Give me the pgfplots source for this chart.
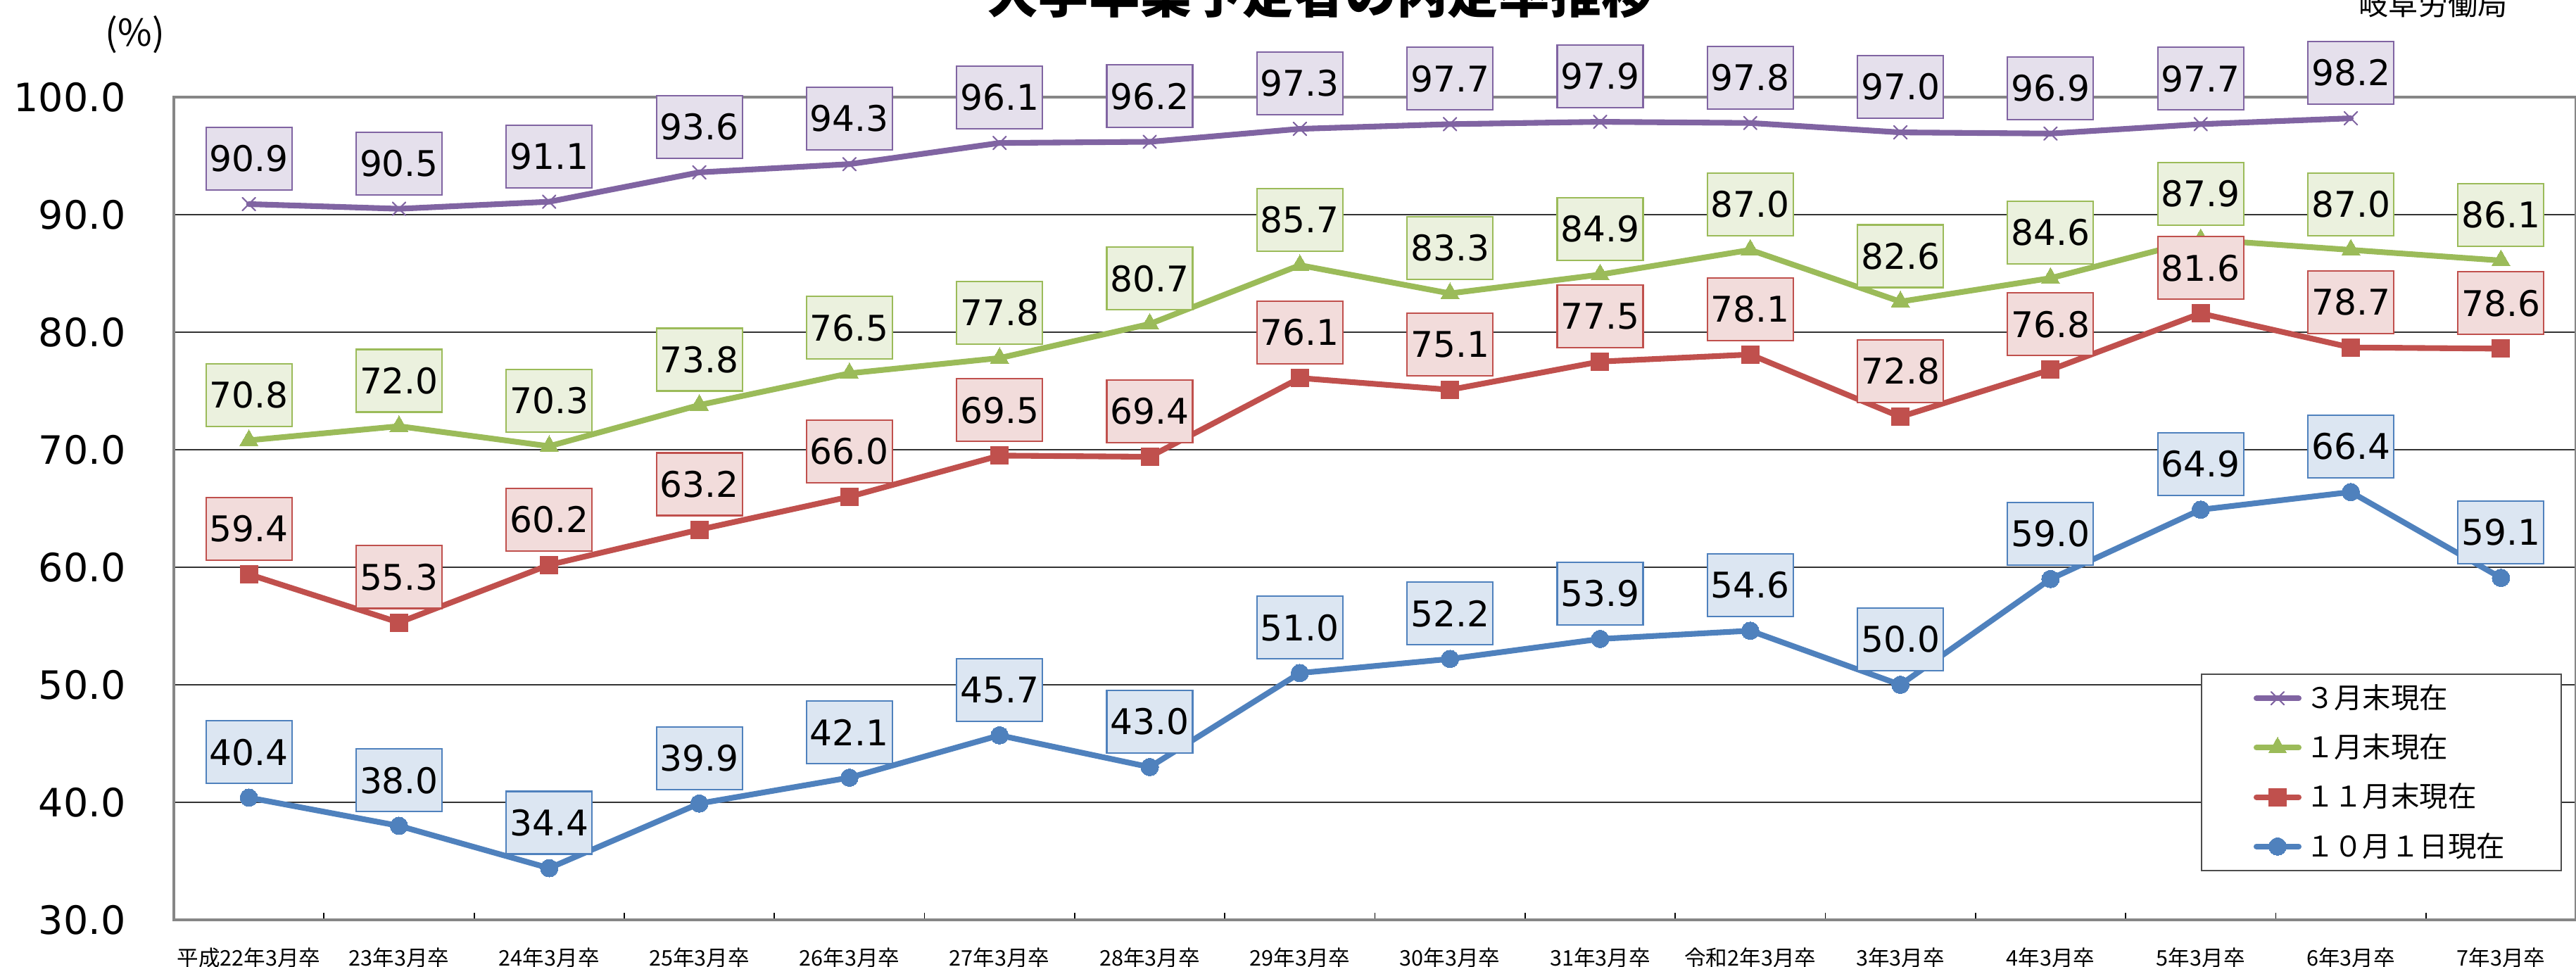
\documentclass[border=0pt]{standalone}
\usepackage{fontspec}
\usepackage{pgfplots}
\pgfplotsset{compat=1.18}
\setmainfont{DejaVu Sans}
\newfontfamily\cjk{Noto Sans CJK JP}
\definecolor{cP}{HTML}{8064A2}
\definecolor{cPf}{HTML}{E5E0EC}
\definecolor{cG}{HTML}{9BBB59}
\definecolor{cGf}{HTML}{EBF1DE}
\definecolor{cR}{HTML}{C0504D}
\definecolor{cRf}{HTML}{F2DCDB}
\definecolor{cB}{HTML}{4F81BD}
\definecolor{cBf}{HTML}{DCE6F2}
\definecolor{axgray}{HTML}{868686}
\pgfplotsset{
  lbl/.style={draw=none, forget plot,
    nodes near coords={\pgfmathprintnumber[fixed,fixed zerofill,precision=1]{\pgfplotspointmeta}},
    nodes near coords style={draw=#1, fill=#1f, line width=0.6pt, anchor=south, yshift=1.9mm,
      minimum width=12.2mm, minimum height=8.9mm, inner sep=0pt,
      font=\fontsize{14.3}{16}\selectfont, text=black}},
}
\begin{document}
\begin{tikzpicture}
\begin{axis}[
  at={(24.7mm,6.6mm)}, anchor=south west,
  width=341.3mm, height=116.9mm, scale only axis,
  xmin=-0.5, xmax=15.5, ymin=30, ymax=100,
  xtick={0,...,15},
  xticklabels={平成22年3月卒,23年3月卒,24年3月卒,25年3月卒,26年3月卒,27年3月卒,28年3月卒,29年3月卒,30年3月卒,31年3月卒,令和2年3月卒,3年3月卒,4年3月卒,5年3月卒,6年3月卒,7年3月卒},
  minor xtick={-0.5,0.5,...,15.5},
  ytick={30,40,...,100},
  major tick length=0pt, minor tick length=1mm, tick align=inside,
  xtick pos=left, ytick pos=left,
  minor tick style={black, line width=0.5pt},
  ymajorgrids, major grid style={black!80, line width=0.5pt},
  axis line style={draw=axgray, line width=1.3pt},
  /pgf/number format/assume math mode=true,
  yticklabel style={font=\fontsize{15.8}{18}\selectfont, xshift=-5.6mm,
    /pgf/number format/.cd, fixed, fixed zerofill, precision=1},
  xticklabel style={font=\cjk\fontsize{8.7}{10}\selectfont, yshift=-2.7mm},
  clip=false,
  legend cell align=left,
  legend style={at={(0.8438,0.2994)}, anchor=north west, draw=black!70, line width=0.6pt,
    fill=white, font=\cjk\fontsize{11.5}{13.8}\selectfont,
    inner xsep=7.4mm, inner ysep=0.85mm, row sep=1.9mm,
    nodes={inner sep=0.6mm}},
]
\addplot[color=cP, line width=2.3pt, line cap=round, line join=round, mark=x, mark size=1.3mm,
  mark options={line width=0.6pt}] coordinates {
(0,90.9) (1,90.5) (2,91.1) (3,93.6) (4,94.3) (5,96.1) (6,96.2) (7,97.3) (8,97.7) (9,97.9) (10,97.8) (11,97.0) (12,96.9) (13,97.7) (14,98.2)};
\addlegendentry{３月末現在}
\addplot[color=cG, line width=2.3pt, line cap=round, line join=round, mark=triangle*, mark size=1.5mm,
  mark options={line width=0pt}] coordinates {
(0,70.8) (1,72.0) (2,70.3) (3,73.8) (4,76.5) (5,77.8) (6,80.7) (7,85.7) (8,83.3) (9,84.9) (10,87.0) (11,82.6) (12,84.6) (13,87.9) (14,87.0) (15,86.1)};
\addlegendentry{１月末現在}
\addplot[color=cR, line width=2.3pt, line cap=round, line join=round, mark=square*, mark size=1.25mm,
  mark options={line width=0pt}] coordinates {
(0,59.4) (1,55.3) (2,60.2) (3,63.2) (4,66.0) (5,69.5) (6,69.4) (7,76.1) (8,75.1) (9,77.5) (10,78.1) (11,72.8) (12,76.8) (13,81.6) (14,78.7) (15,78.6)};
\addlegendentry{１１月末現在}
\addplot[color=cB, line width=2.3pt, line cap=round, line join=round, mark=*, mark size=1.25mm,
  mark options={line width=0pt}] coordinates {
(0,40.4) (1,38.0) (2,34.4) (3,39.9) (4,42.1) (5,45.7) (6,43.0) (7,51.0) (8,52.2) (9,53.9) (10,54.6) (11,50.0) (12,59.0) (13,64.9) (14,66.4) (15,59.1)};
\addlegendentry{１０月１日現在}
% data labels on top
\addplot[lbl=cP] coordinates {
(0,90.9) (1,90.5) (2,91.1) (3,93.6) (4,94.3) (5,96.1) (6,96.2) (7,97.3) (8,97.7) (9,97.9) (10,97.8) (11,97.0) (12,96.9) (13,97.7) (14,98.2)};
\addplot[lbl=cG] coordinates {
(0,70.8) (1,72.0) (2,70.3) (3,73.8) (4,76.5) (5,77.8) (6,80.7) (7,85.7) (8,83.3) (9,84.9) (10,87.0) (11,82.6) (12,84.6) (13,87.9) (14,87.0) (15,86.1)};
\addplot[lbl=cR] coordinates {
(0,59.4) (1,55.3) (2,60.2) (3,63.2) (4,66.0) (5,69.5) (6,69.4) (7,76.1) (8,75.1) (9,77.5) (10,78.1) (11,72.8) (12,76.8) (13,81.6) (14,78.7) (15,78.6)};
\addplot[lbl=cB] coordinates {
(0,40.4) (1,38.0) (2,34.4) (3,39.9) (4,42.1) (5,45.7) (6,43.0) (7,51.0) (8,52.2) (9,53.9) (10,54.6) (11,50.0) (12,59.0) (13,64.9) (14,66.4) (15,59.1)};
\end{axis}
\node[anchor=base, font=\cjk\bfseries\fontsize{20.7}{24}\selectfont] at (187.5mm,135.4mm) {大学卒業予定者の内定率推移};
\node[anchor=base east, font=\cjk\fontsize{12}{14}\selectfont] at (357.5mm,135.1mm) {岐阜労働局};
\node[font=\cjk\fontsize{15}{18}\selectfont] at (19.2mm,132.4mm) {(\%)};
\pgfresetboundingbox
\useasboundingbox (0,0) rectangle (366mm,137.3mm);
\end{tikzpicture}
\end{document}
